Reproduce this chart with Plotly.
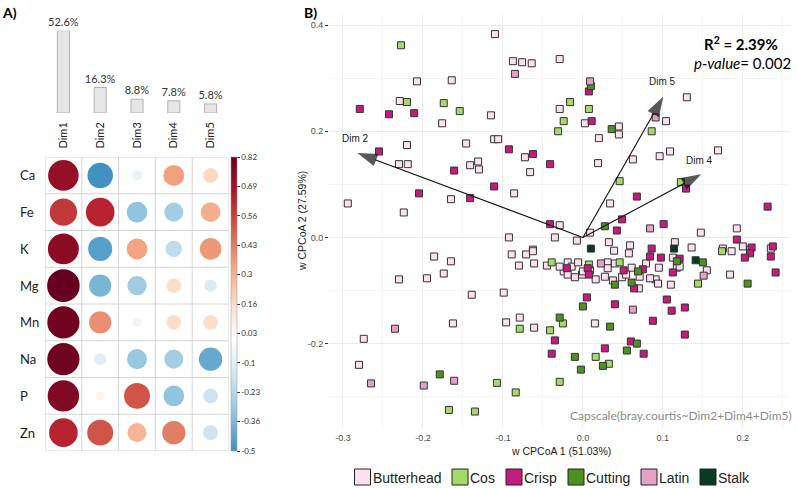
import plotly.graph_objects as go

W, H = 797, 488

# ---------------- Panel A data ----------------
dims = ["Dim1", "Dim2", "Dim3", "Dim4", "Dim5"]
dim_var_pct = [52.6, 16.3, 8.8, 7.8, 5.8]
minerals = ["Ca", "Fe", "K", "Mg", "Mn", "Na", "P", "Zn"]
corr_Ca = [0.72, -0.50, -0.08, 0.34, 0.17]
corr_Fe = [0.58, 0.63, -0.33, -0.28, 0.30]
corr_K = [0.74, -0.45, 0.33, -0.21, 0.36]
corr_Mg = [0.82, -0.38, -0.29, 0.16, -0.12]
corr_Mn = [0.80, 0.38, -0.06, 0.16, 0.16]
corr_Na = [0.80, -0.11, -0.31, -0.28, -0.42]
corr_P = [0.76, 0.06, 0.52, -0.33, -0.17]
corr_Zn = [0.63, 0.52, 0.28, 0.42, -0.17]
corr_rows = [corr_Ca, corr_Fe, corr_K, corr_Mg, corr_Mn, corr_Na, corr_P, corr_Zn]
cbar_min, cbar_max = -0.5, 0.82
cbar_labels = ["-0.5", "-0.36", "-0.23", "-0.1", "0.03", "0.16", "0.3", "0.43", "0.56", "0.69", "0.82"]

# ---------------- Panel B data ----------------
butterhead_x = [-0.2075, -0.164, -0.229, -0.176, -0.115, -0.110, -0.0875, -0.076, -0.064, -0.220,
                -0.230, -0.219, -0.146, -0.141, -0.131, -0.130, -0.111, -0.106, -0.0725, -0.066,
                -0.086, -0.294, -0.224, -0.165, -0.0925, -0.0625, -0.029, -0.029, 0.0025, 0.020,
                0.045, 0.045, 0.019, 0.034, 0.130, 0.104, 0.109, 0.096, 0.169, 0.0625,
                -0.029, -0.035, -0.0075, 0.009, 0.1475, 0.1925, 0.0325, 0.115, 0.136, 0.175,
                0.200, 0.235, 0.039, 0.0575, 0.1125, 0.186, 0.209, 0.184, 0.155, 0.1175,
                0.121, 0.095, 0.091, 0.094, 0.110, 0.061, 0.049, 0.0375, 0.071, 0.070,
                -0.089, -0.071, -0.0625, -0.080, -0.061, -0.165, -0.174, -0.045, -0.019, -0.024,
                -0.019, -0.010, -0.001, 0.000, 0.031, 0.031, 0.040, 0.0275, -0.139, -0.099,
                -0.1625, -0.096, -0.079, -0.061, 0.015, -0.186, -0.230, -0.195, -0.274, -0.280,
                0.009, 0.016, 0.054, 0.079, -0.029, -0.014, -0.006, 0.059, 0.084]
butterhead_y = [0.294, 0.296, 0.257, 0.215, 0.230, 0.383, 0.332, 0.330, 0.328, 0.174,
                0.138, 0.138, 0.177, 0.136, 0.143, 0.128, 0.185, 0.185, 0.151, 0.123,
                0.083, 0.064, 0.047, 0.072, 0.000, -0.023, 0.336, 0.242, 0.215, 0.187,
                0.209, 0.194, 0.140, 0.064, 0.264, 0.219, 0.162, 0.153, 0.164, 0.147,
                0.023, 0.000, -0.006, 0.009, 0.009, 0.017, -0.009, -0.009, -0.019, -0.021,
                -0.017, -0.021, -0.025, -0.030, -0.038, -0.026, -0.023, -0.070, -0.062, -0.057,
                -0.055, -0.057, -0.079, -0.087, -0.089, -0.057, -0.075, -0.081, -0.074, -0.096,
                -0.032, -0.032, -0.026, -0.053, -0.049, -0.045, -0.068, -0.053, -0.047, -0.064,
                -0.070, -0.075, -0.070, -0.064, -0.047, -0.058, -0.049, -0.074, -0.108, -0.104,
                -0.162, -0.160, -0.151, -0.170, -0.162, -0.036, -0.079, -0.077, -0.191, -0.240,
                -0.062, -0.079, -0.070, -0.049, -0.055, -0.055, -0.047, -0.015, -0.077]
cos_x = [-0.2275, -0.220, -0.174, -0.154, -0.016, 0.0075, -0.024, -0.031, 0.086, 0.046,
         0.1225, 0.174, 0.144, 0.046, -0.039, 0.0075, -0.025, -0.079, -0.041, 0.016,
         0.0325, -0.029, -0.1075, -0.084, -0.1675, -0.135]
cos_y = [0.362, 0.255, 0.253, 0.238, 0.255, 0.242, 0.219, 0.200, 0.200, 0.106,
         0.104, -0.026, -0.087, -0.047, -0.047, -0.051, -0.162, -0.172, -0.175, -0.225,
         -0.238, -0.272, -0.274, -0.292, -0.325, -0.328]
crisp_x = [-0.279, -0.2425, -0.211, -0.255, -0.161, -0.0925, -0.0625, -0.041, -0.111, -0.205,
           -0.141, -0.041, 0.0075, 0.011, 0.129, 0.0675, 0.231, 0.049, 0.0425, 0.101,
           0.1925, 0.086, 0.211, 0.2375, 0.084, 0.0975, 0.121, 0.209, 0.2025, 0.235,
           0.241, 0.1125, 0.105, 0.111, 0.1275, 0.0875, 0.040, 0.051, 0.075, 0.064,
           -0.020, 0.006, 0.0075, 0.005, 0.1275, -0.035, -0.039, 0.0275, 0.060, 0.076]
crisp_y = [0.242, 0.232, 0.234, 0.162, 0.126, 0.166, 0.157, 0.138, 0.096, 0.083,
           0.074, 0.025, 0.275, 0.219, 0.092, 0.077, 0.058, 0.034, 0.013, 0.025,
           -0.004, -0.021, -0.019, -0.017, -0.036, -0.038, -0.040, -0.030, -0.038, -0.036,
           -0.066, -0.066, -0.117, -0.138, -0.132, -0.157, -0.126, -0.062, -0.060, -0.096,
           -0.058, -0.058, -0.070, -0.113, -0.183, -0.194, -0.219, -0.209, -0.196, -0.219]
cutting_x = [0.010, 0.036, 0.0275, 0.150, 0.1175, 0.069, 0.061, 0.040, 0.206, 0.000,
             -0.029, 0.034, -0.010, -0.0025, 0.025, 0.0675, 0.055, -0.179]
cutting_y = [0.285, 0.204, 0.021, -0.047, -0.045, -0.064, -0.085, -0.089, -0.087, -0.130,
             -0.151, -0.168, -0.225, -0.249, -0.242, -0.200, -0.213, -0.258]
latin_x = [-0.085, 0.009, 0.091, 0.084, 0.0225, 0.151, 0.0625, -0.235, -0.265, -0.199, -0.161]
latin_y = [0.308, 0.294, 0.226, 0.017, -0.049, -0.072, -0.136, -0.172, -0.275, -0.279, -0.270]
stalk_x = [0.010, 0.114, 0.141]
stalk_y = [-0.021, -0.021, -0.043]

groups = ["Butterhead", "Cos", "Crisp", "Cutting", "Latin", "Stalk"]
group_x = [butterhead_x, cos_x, crisp_x, cutting_x, latin_x, stalk_x]
group_y = [butterhead_y, cos_y, crisp_y, cutting_y, latin_y, stalk_y]

# biplot arrows (tip coordinates) and label positions
arrow_names = ["Dim 2", "Dim 4", "Dim 5"]
arrow_x = [-0.282, 0.148, 0.1004]
arrow_y = [0.159, 0.119, 0.265]
arrow_lab_x = [-0.284, 0.146, 0.099]
arrow_lab_y = [0.187, 0.145, 0.294]

# ---------------- styles ----------------
group_colors = ["#fde0ef", "#a6d96a", "#c51b7d", "#4d9221", "#e4a0c6", "#073b24"]
rdbu = ["#053061", "#2166AC", "#4393C3", "#92C5DE", "#D1E5F0", "#FFFFFF",
        "#FDDBC7", "#F4A582", "#D6604D", "#B2182B", "#67001F"]


def hex2rgb(h):
    h = h.lstrip("#")
    return [int(h[i:i + 2], 16) for i in (0, 2, 4)]


def interp_color(p):
    pos = (p + 1) / 2 * (len(rdbu) - 1)
    i = min(int(pos), len(rdbu) - 2)
    f = pos - i
    a, b = hex2rgb(rdbu[i]), hex2rgb(rdbu[i + 1])
    c = [round(a[k] + (b[k] - a[k]) * f) for k in range(3)]
    return "rgb(%d,%d,%d)" % tuple(c)


absmax = max(abs(cbar_min), abs(cbar_max))
cs_points = [cbar_min] + [absmax * (-1 + 0.2 * k) for k in range(11)
                          if absmax * (-1 + 0.2 * k) > cbar_min + 1e-9]
colorscale = [[(v - cbar_min) / (cbar_max - cbar_min), interp_color(v / absmax)] for v in cs_points]
colorscale[-1][0] = 1.0
cbar_tickvals = [cbar_min + (cbar_max - cbar_min) * k / 10 for k in range(11)]


def px_x(p):
    return p / W


def px_y(p):
    return (H - p) / H


FONT_A = "Lato, 'Open Sans', sans-serif"
FONT_B = "'Liberation Sans', Arial, sans-serif"

fig = go.Figure()

# bars (explained variance)
fig.add_trace(go.Bar(
    x=dims, y=dim_var_pct, xaxis="x2", yaxis="y2", width=0.33,
    marker=dict(color="#e6e6e6", line=dict(color="#b3b3b3", width=1)),
    texttemplate="%{y}%", textposition="outside", cliponaxis=False, constraintext="none",
    textfont=dict(family=FONT_A, size=11, color="#333333"),
    showlegend=False, hoverinfo="skip"))

# correlation circles
mx, my, mc, ms = [], [], [], []
for mi, row in zip(minerals, corr_rows):
    for d, r in zip(dims, row):
        mx.append(d)
        my.append(mi)
        mc.append(r)
        ms.append(36 * abs(r) ** 0.5)
fig.add_trace(go.Scatter(
    x=mx, y=my, mode="markers", xaxis="x", yaxis="y",
    marker=dict(size=ms, color=mc, colorscale=colorscale, cmin=cbar_min, cmax=cbar_max,
                line=dict(width=0), opacity=1,
                colorbar=dict(x=px_x(231), xanchor="left", y=px_y(304), yanchor="middle",
                              len=294, lenmode="pixels", thickness=6, thicknessmode="pixels",
                              xpad=0, ypad=0, outlinewidth=0.5, outlinecolor="#999999",
                              tickmode="array", tickvals=cbar_tickvals, ticktext=cbar_labels,
                              ticks="outside", ticklen=3, tickcolor="#333333",
                              tickfont=dict(family=FONT_A, size=8, color="#333333"))),
    showlegend=False, hoverinfo="skip"))

# scatter groups
for g, xs, ys, col in zip(groups, group_x, group_y, group_colors):
    fig.add_trace(go.Scatter(
        x=xs, y=ys, mode="markers", xaxis="x3", yaxis="y3", name=g,
        marker=dict(symbol="square", size=7, color=col, line=dict(color="#333333", width=1)),
        showlegend=False))

# biplot arrows drawn from origin to tip, with arrow marker at the tip
for nm, tx, ty in zip(arrow_names, arrow_x, arrow_y):
    fig.add_trace(go.Scatter(
        x=[0, tx], y=[0, ty], mode="lines+markers", xaxis="x3", yaxis="y3",
        line=dict(color="#111111", width=1.1),
        marker=dict(symbol=["circle", "arrow"], size=[0, 21], color="#111111",
                    angleref="previous", line=dict(width=0)),
        showlegend=False, hoverinfo="skip"))

shapes = []
for k in range(6):
    shapes.append(dict(type="line", xref="x", yref="y", x0=k - 0.5, x1=k - 0.5, y0=-0.5, y1=7.5,
                       line=dict(color="#d6d6d6", width=1), layer="below"))
for k in range(9):
    shapes.append(dict(type="line", xref="x", yref="y", x0=-0.5, x1=4.5, y0=k - 0.5, y1=k - 0.5,
                       line=dict(color="#d6d6d6", width=1), layer="below"))

annotations = []
annotations.append(dict(text="<b>A)</b>", x=px_x(0), y=px_y(12), xref="paper", yref="paper",
                        xanchor="left", yanchor="middle", showarrow=False,
                        font=dict(family=FONT_A, size=14, color="#000000")))
annotations.append(dict(text="<b>B)</b>", x=px_x(302), y=px_y(12), xref="paper", yref="paper",
                        xanchor="left", yanchor="middle", showarrow=False,
                        font=dict(family=FONT_A, size=14, color="#000000")))
for mi in minerals:
    annotations.append(dict(text=mi, x=px_x(18), y=mi, xref="paper", yref="y",
                            xanchor="left", yanchor="middle", showarrow=False,
                            font=dict(family=FONT_A, size=13, color="#222222")))

for nm, lx, ly in zip(arrow_names, arrow_lab_x, arrow_lab_y):
    annotations.append(dict(x=lx, y=ly, xref="x3", yref="y3", text=nm, showarrow=False,
                            font=dict(family=FONT_B, size=10, color="#222222")))

annotations.append(dict(text="<b>R<sup>2</sup> = 2.39%</b>", x=px_x(780), y=px_y(43),
                        xref="paper", yref="paper", xanchor="right", yanchor="middle",
                        showarrow=False, font=dict(family=FONT_A, size=15, color="#000000")))
annotations.append(dict(text="<i>p-value</i>= 0.002", x=px_x(793), y=px_y(63),
                        xref="paper", yref="paper", xanchor="right", yanchor="middle",
                        showarrow=False, font=dict(family=FONT_A, size=15, color="#000000")))
annotations.append(dict(text="Capscale(bray.courtis~Dim2+Dim4+Dim5)", x=px_x(794), y=px_y(415),
                        xref="paper", yref="paper", xanchor="right", yanchor="middle",
                        showarrow=False, font=dict(family=FONT_A, size=12, color="#8c8c8c")))
annotations.append(dict(text="w CPCoA 1 (51.03%)", x=px_x(561), y=px_y(451),
                        xref="paper", yref="paper", xanchor="center", yanchor="middle",
                        showarrow=False, font=dict(family=FONT_B, size=10.5, color="#222222")))
annotations.append(dict(text="w CPCoA 2 (27.59%)", x=px_x(302), y=px_y(221), textangle=-90,
                        xref="paper", yref="paper", xanchor="center", yanchor="middle",
                        showarrow=False, font=dict(family=FONT_B, size=10.5, color="#222222")))

# legend (manual, boxes + labels)
leg_box_x = [354.5, 452, 506, 568, 641, 700]
for g, col, bx in zip(groups, group_colors, leg_box_x):
    shapes.append(dict(type="rect", xref="paper", yref="paper",
                       x0=px_x(bx), x1=px_x(bx + 16), y0=px_y(485), y1=px_y(469),
                       fillcolor=col, line=dict(color="#222222", width=1)))
    annotations.append(dict(text=g, x=px_x(bx + 17), y=px_y(477.5), xref="paper", yref="paper",
                            xanchor="left", yanchor="middle", showarrow=False, borderpad=0,
                            font=dict(family=FONT_B, size=14, color="#222222")))

fig.update_layout(
    width=W, height=H, margin=dict(l=0, r=0, t=0, b=0),
    paper_bgcolor="white", plot_bgcolor="white", showlegend=False,
    xaxis=dict(domain=[px_x(45), px_x(229)], range=[-0.5, 4.5], visible=False,
               anchor="y", categoryorder="array", categoryarray=dims),
    yaxis=dict(domain=[px_y(451), px_y(157)], range=[7.5, -0.5], visible=False,
               anchor="x", categoryorder="array", categoryarray=minerals),
    xaxis2=dict(domain=[px_x(45), px_x(229)], range=[-0.5, 4.5], anchor="y2",
                categoryorder="array", categoryarray=dims, tickangle=-90, ticks="",
                showgrid=False, zeroline=False, showline=False, ticklabelstandoff=6,
                tickfont=dict(family=FONT_A, size=11, color="#222222")),
    yaxis2=dict(domain=[px_y(113), px_y(30.7)], range=[0, 52.6], visible=False, anchor="x2"),
    xaxis3=dict(domain=[px_x(329), px_x(790)], range=[-0.3175, 0.259], anchor="y3",
                tickmode="array", tickvals=[-0.3, -0.2, -0.1, 0.0, 0.1, 0.2],
                ticktext=["-0.3", "-0.2", "-0.1", "0.0", "0.1", "0.2"],
                showgrid=True, gridcolor="#ebebeb", gridwidth=1, zeroline=False, showline=False,
                ticks="", ticklabelstandoff=3,
                minor=dict(tickmode="linear", tick0=0, dtick=0.05, showgrid=True,
                           gridcolor="#f4f4f4", gridwidth=0.6),
                tickfont=dict(family=FONT_B, size=9, color="#4d4d4d")),
    yaxis3=dict(domain=[px_y(428), px_y(15)], range=[-0.359, 0.419], anchor="x3",
                tickmode="array", tickvals=[-0.2, 0.0, 0.2, 0.4],
                ticktext=["-0.2", "0.0", "0.2", "0.4"],
                showgrid=True, gridcolor="#ebebeb", gridwidth=1, zeroline=False, showline=False,
                ticks="outside", ticklen=3, tickcolor="#333333", tickwidth=1,
                minor=dict(tickmode="linear", tick0=0, dtick=0.1, showgrid=True,
                           gridcolor="#f4f4f4", gridwidth=0.6, ticks=""),
                tickfont=dict(family=FONT_B, size=9, color="#4d4d4d")),
    shapes=shapes, annotations=annotations,
)

fig.write_html("out.html")
